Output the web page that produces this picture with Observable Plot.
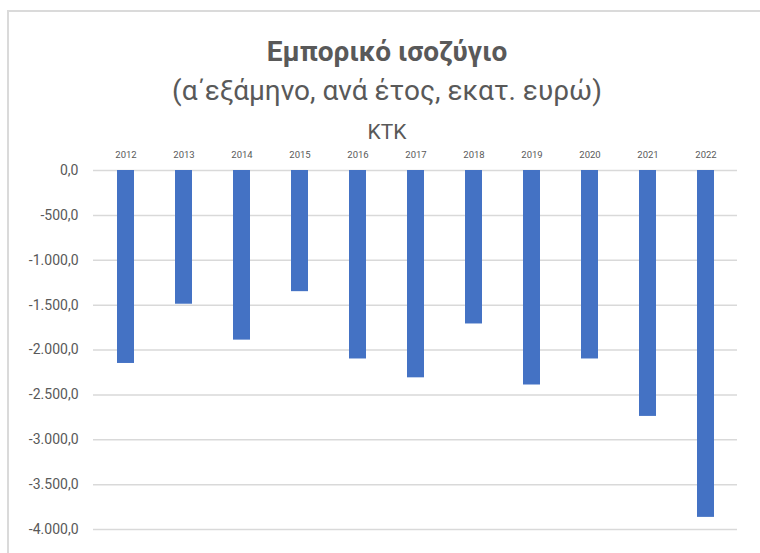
<!DOCTYPE html>
<html>
<head>
<meta charset="utf-8">
<script src="https://cdn.jsdelivr.net/npm/d3@7"></script>
<script src="https://cdn.jsdelivr.net/npm/@observablehq/plot@0.6"></script>
<style>
  html, body { margin: 0; padding: 0; background: #fff; }
  body { width: 760px; height: 553px; overflow: hidden; position: relative; font-family: Roboto, "Noto Sans", sans-serif; }
  .frame { position: absolute; left: 7px; top: 10px; width: 790px; height: 600px; border: 2px solid #dadada; box-sizing: border-box; }
  .t { position: absolute; left: 0; width: 774px; text-align: center; color: #595959; white-space: nowrap; }
  #title { top: 38px; font-size: 28px; line-height: 28px; font-weight: bold; }
  #subtitle { top: 77px; font-size: 28px; line-height: 28px; }
  #series { top: 122px; font-size: 21px; line-height: 21px; }
  #chart { position: absolute; left: 0; top: 140px; }
</style>
</head>
<body>
<div class="frame"></div>
<div class="t" id="title">Εμπορικό ισοζύγιο</div>
<div class="t" id="subtitle">(α΄εξάμηνο, ανά έτος, εκατ. ευρώ)</div>
<div class="t" id="series">ΚΤΚ</div>
<div id="chart"></div>
<script>
const years = ["2012", "2013", "2014", "2015", "2016", "2017", "2018", "2019", "2020", "2021", "2022"];
const values = [-2150, -1490, -1890, -1350, -2100, -2310, -1710, -2390, -2100, -2740, -3865];
const yTicks = [0, -500, -1000, -1500, -2000, -2500, -3000, -3500, -4000];

const locale = d3.formatLocale({decimal: ",", thousands: ".", grouping: [3], currency: ["", "€"], minus: "-"});
const fmt = locale.format(",.1f");
const data = years.map((y, i) => ({year: y, value: values[i]}));

const chart = Plot.plot({
  width: 760,
  height: 400,
  marginLeft: 93,
  marginRight: 23,
  marginTop: 30,
  marginBottom: 11,
  style: {fontFamily: "Roboto, 'Noto Sans', sans-serif", color: "#595959", background: "transparent"},
  x: {domain: years, paddingInner: 0.71, paddingOuter: 0.355, axis: null},
  y: {domain: [-4000, 0], axis: null},
  marks: [
    Plot.gridY(yTicks, {stroke: "#d9d9d9", strokeOpacity: 1, strokeWidth: 1.5}),
    Plot.barY(data, {x: "year", y: "value", fill: "#4472C4"}),
    Plot.axisX({anchor: "top", tickSize: 0, tickPadding: 13, fontSize: 9.5, label: null}),
    Plot.axisY(yTicks, {anchor: "left", tickSize: 0, tickPadding: 15, tickFormat: fmt, fontSize: 14, label: null})
  ]
});
document.getElementById("chart").appendChild(chart);
</script>
</body>
</html>
